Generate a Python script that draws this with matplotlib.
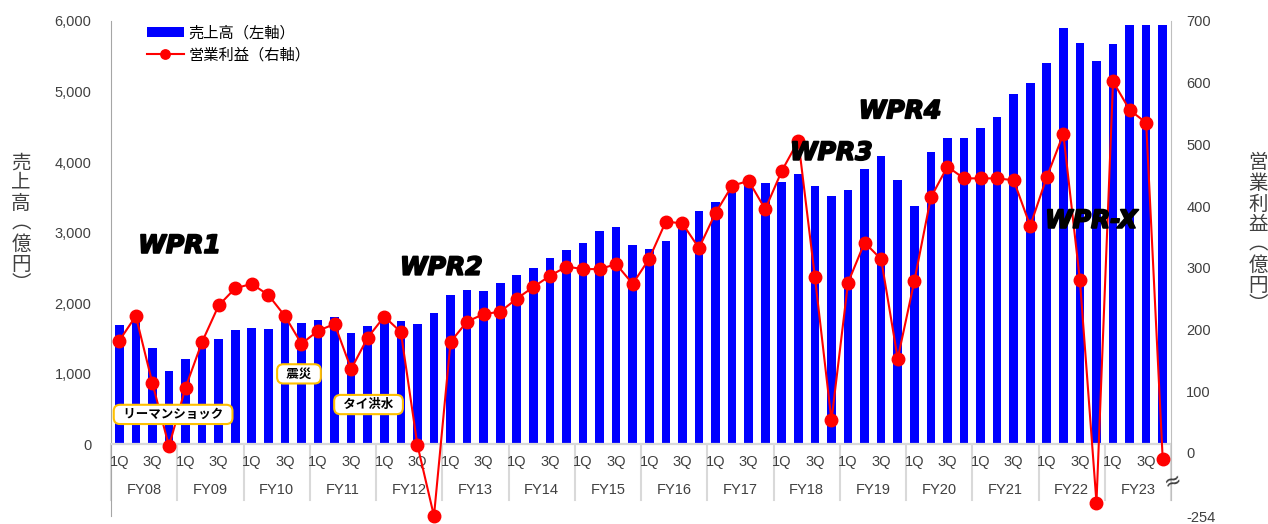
import numpy as np
import matplotlib
matplotlib.use('Agg')
import matplotlib.pyplot as plt
from matplotlib import transforms
import matplotlib.patheffects as pe

plt.rcParams['font.family'] = ['Liberation Sans', 'Noto Sans CJK JP', 'DejaVu Sans']

# ─── data (億円, quarterly FY08 1Q .. FY23 4Q) ─────────────────────────────────
fiscal_years = ['FY08', 'FY09', 'FY10', 'FY11', 'FY12', 'FY13', 'FY14', 'FY15',
                'FY16', 'FY17', 'FY18', 'FY19', 'FY20', 'FY21', 'FY22', 'FY23']
quarters = ['1Q', '', '3Q', '']

sales = [1690, 1780, 1360, 1035,   # FY08
         1205, 1430, 1485, 1615,   # FY09
         1650, 1630, 1770, 1710,   # FY10
         1760, 1805, 1580, 1675,   # FY11
         1780, 1745, 1700, 1855,   # FY12
         2110, 2180, 2165, 2280,   # FY13
         2400, 2490, 2645, 2745,   # FY14
         2845, 3025, 3080, 2825,   # FY15
         2760, 2880, 3050, 3310,   # FY16
         3430, 3620, 3680, 3705,   # FY17
         3720, 3830, 3660, 3520,   # FY18
         3605, 3900, 4080, 3745,   # FY19
         3370, 4145, 4335, 4335,   # FY20
         4480, 4635, 4970, 5115,   # FY21
         5410, 5905, 5690, 5430,   # FY22
         5670, 5950, 5945, 5945]   # FY23

op_profit = [182, 222, 113, 11,
             106, 180, 239, 267,
             274, 256, 222, 177,
             198, 209, 136, 187,
             221, 196, 13, -254,
             180, 213, 225, 229,
             250, 269, 287, 302,
             298, 298, 306, 274,
             315, 375, 372, 332,
             389, 433, 441, 395,
             457, 506, 285, 53,
             276, 341, 314, 153,
             278, 414, 464, 445,
             445, 445, 442, 368,
             447, 517, 280, -200,
             602, 556, 535, -25]

# plan names and events: (text, quarter index, left-axis value)
plans = [('WPR1', 1.15, 2810), ('WPR2', 16.95, 2500), ('WPR3', 40.5, 4130),
         ('WPR4', 44.65, 4720), ('WPR-X', 55.9, 3165)]
events = [('リーマンショック', 3.25, 420), ('震災', 10.85, 995), ('タイ洪水', 15.05, 560)]

x = np.arange(len(sales))
GRID = '#D9D9D9'
TXT = '#404040'

# negative profits are drawn on a compressed scale (axis break)
K = 0.402
def fwd(v):
    v = np.asarray(v, dtype=float)
    return np.where(v < 0, v * K, v)
def inv(v):
    v = np.asarray(v, dtype=float)
    return np.where(v < 0, v / K, v)

fig = plt.figure(figsize=(12.68, 5.24), dpi=100)
ax = fig.add_axes([111 / 1268, 8 / 524, 1060 / 1268, 495 / 524])

bars = ax.bar(x, sales, width=0.52, color='#0000FF', label='売上高（左軸）', zorder=2)
ax.set_xlim(-0.5, len(sales) - 0.5)
ax.set_ylim(-1021, 6000)
ax.set_yticks(range(0, 6001, 1000))
ax.set_yticklabels([f'{v:,}' for v in range(0, 6001, 1000)])
ax.tick_params(axis='y', length=0, pad=14, labelsize=10.5, labelcolor=TXT)
ax.set_xticks([])
for s in ['top', 'bottom', 'right']:
    ax.spines[s].set_visible(False)
ax.spines['left'].set_color('#A6A6A6')
ax.axhline(0, color=GRID, lw=1.6, zorder=3)

# two-level category axis
trans = transforms.blended_transform_factory(ax.transData, ax.transAxes)
for i in x:
    q = quarters[i % 4]
    if q:
        ax.text(i, 0.109, q, transform=trans, ha='center', va='center',
                fontsize=10.5, color=TXT)
for k, fy in enumerate(fiscal_years):
    ax.text(4 * k + 1.5, 0.0525, fy, transform=trans, ha='center', va='center',
            fontsize=10.5, color=TXT)
for b in range(0, len(sales) + 1, 4):
    ax.plot([b - 0.5, b - 0.5], [0.032, 0.1455], transform=trans, color=GRID,
            lw=1.5, clip_on=False, zorder=1)

ax2 = ax.twinx()
ax2.set_yscale('function', functions=(fwd, inv))
line, = ax2.plot(x, op_profit, color='#FF0000', lw=1.5, marker='o', ms=9,
                 label='営業利益（右軸）', clip_on=False, zorder=4)
ax2.set_ylim(-254, 700)
rt = [-254] + list(range(0, 701, 100))
ax2.set_yticks(rt)
ax2.set_yticklabels([str(v) for v in rt])
ax2.tick_params(axis='y', length=0, pad=11, labelsize=10.5, labelcolor=TXT)
ax2.minorticks_off()
for s in ['top', 'bottom', 'left']:
    ax2.spines[s].set_visible(False)
ax2.spines['right'].set_color('#BFBFBF')
ax2.spines['right'].set_bounds(-190, 700)
ax2.text(1.002, 0.071, '≈', transform=ax2.transAxes, rotation=20, ha='center',
         va='center', fontsize=15, color=TXT, family='DejaVu Sans')

for name, xi, yv in plans:
    ax2.text(xi, yv, name, transform=ax.transData, ha='left', va='center',
             fontsize=18, fontweight='heavy', fontstyle='italic',
             family='DejaVu Sans', color='black', zorder=6,
             path_effects=[pe.withStroke(linewidth=1.3, foreground='black')])
for name, xi, yv in events:
    ax2.text(xi, yv, '\u2002' + name + '\u2002', transform=ax.transData,
             ha='center', va='center', fontsize=9, fontweight='bold',
             family=['Noto Sans CJK JP', 'DejaVu Sans'], color='black', zorder=7,
             bbox=dict(boxstyle='round,pad=0.25,rounding_size=0.5', fc='white',
                       ec='#FFC000', lw=1.5))

ax2.legend([bars, line], ['売上高（左軸）', '営業利益（右軸）'], loc='upper left',
           bbox_to_anchor=(0.034, 0.99), frameon=False, fontsize=11,
           handlelength=2.4, handletextpad=0.3, borderpad=0, borderaxespad=0,
           labelspacing=0.45, markerscale=0.75)

fig.text(21 / 1268, 1 - 224 / 524, '\n'.join('売上高︵億円︶'), ha='center',
         va='center', fontsize=14, linespacing=1.2, color=TXT)
fig.text(1258 / 1268, 1 - 234 / 524, '\n'.join('営業利益︵億円︶'), ha='center',
         va='center', fontsize=14, linespacing=1.2, color=TXT)

fig.savefig('out.png', dpi=100)
